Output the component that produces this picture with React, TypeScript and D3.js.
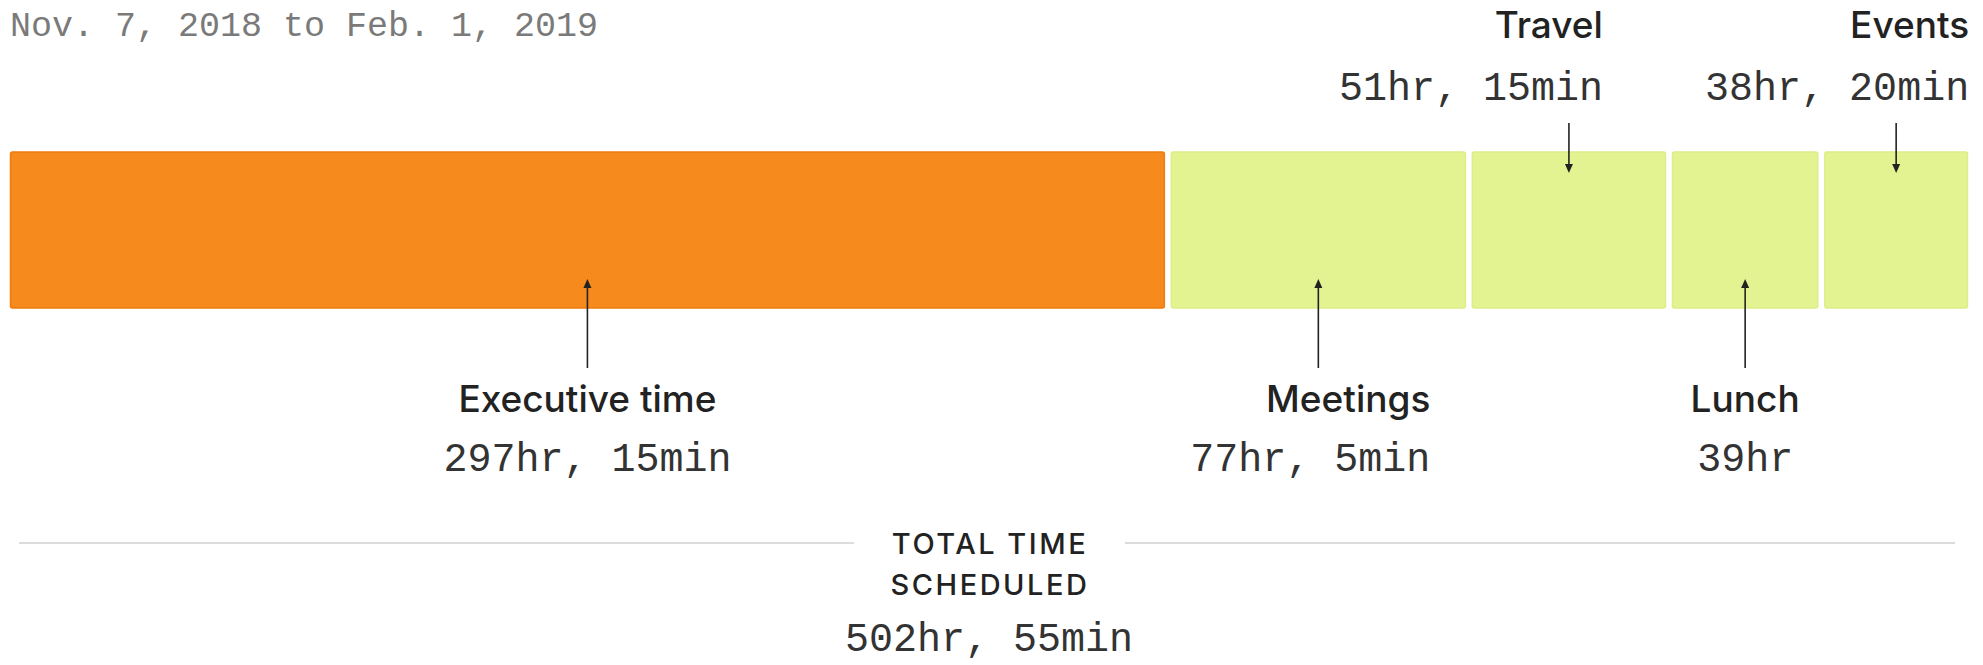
import React from "react";
import * as d3 from "d3";

const subtitle = "Nov. 7, 2018 to Feb. 1, 2019";
const categories = ["Executive time", "Meetings", "Travel", "Lunch", "Events"];
const hours = [297 + 15 / 60, 77 + 5 / 60, 51 + 15 / 60, 39, 38 + 20 / 60];
const highlight = ["Executive time"];
const totalTitle = ["TOTAL TIME", "SCHEDULED"];

// label layout (not data): side, text anchor, offset from segment centre
const labelLayout = [
  { side: "bottom", anchor: "middle", dx: 0 },
  { side: "bottom", anchor: "end", dx: 112 },
  { side: "top", anchor: "end", dx: 34 },
  { side: "bottom", anchor: "middle", dx: 0 },
  { side: "top", anchor: "end", dx: 73 },
];

const W = 1983;
const H = 665;
const MONO = "'Liberation Mono', 'DejaVu Sans Mono', monospace";
const SANS = "Inter, Roboto, 'Noto Sans', sans-serif";

function fmt(h: number): string {
  const totalMin = Math.round(h * 60);
  const hr = Math.floor(totalMin / 60);
  const mn = totalMin % 60;
  return mn === 0 ? `${hr}hr` : `${hr}hr, ${mn}min`;
}

export default function App() {
  const total = d3.sum(hours);
  const x = d3.scaleLinear().domain([0, total]).range([7, 1971]);
  const gap = 3.5;
  const barTop = 152;
  const barBottom = 308;
  const cum = d3.cumsum(hours);
  const segs = categories.map((c, i) => {
    const start = i === 0 ? 0 : cum[i - 1];
    const end = cum[i];
    const x0 = x(start) + gap;
    const x1 = x(end) - gap;
    return { c, i, x0, x1, cx: (x0 + x1) / 2, h: hours[i] };
  });

  const arrowHead = (cx: number, tipY: number, dir: number) => {
    const len = 9;
    const hw = 4;
    return `M${cx},${tipY} L${cx - hw},${tipY - dir * len} L${cx + hw},${tipY - dir * len} Z`;
  };

  const centerX = (x(0) + x(total)) / 2;
  const labelSize = 37;

  return (
    <svg
      width={W}
      height={H}
      style={{ position: "absolute", left: 0, top: 0, background: "#fff" }}
    >
      <text x={10} y={36} fontFamily={MONO} fontSize={35} fill="#7a7a7a">
        {subtitle}
      </text>

      {segs.map((s) => {
        const hi = highlight.includes(s.c);
        return (
          <rect
            key={s.c}
            x={s.x0}
            y={barTop}
            width={s.x1 - s.x0}
            height={barBottom - barTop}
            rx={2}
            fill={hi ? "#f68a1c" : "#e4f391"}
            stroke={hi ? "#ee7c0e" : "#dcee86"}
            strokeWidth={1.5}
          />
        );
      })}

      {segs.map((s) => {
        const L = labelLayout[s.i];
        const tx = s.cx + L.dx;
        if (L.side === "top") {
          return (
            <g key={"l" + s.c}>
              <line x1={s.cx} x2={s.cx} y1={123} y2={165} stroke="#222" strokeWidth={1.6} />
              <path d={arrowHead(s.cx, 173, 1)} fill="#222" />
              <text x={tx} y={38} textAnchor={L.anchor} fontFamily={SANS} fontWeight={500} fontSize={labelSize} fill="#222">
                {s.c}
              </text>
              <text x={tx} y={100} textAnchor={L.anchor} fontFamily={MONO} fontSize={40} fill="#333">
                {fmt(s.h)}
              </text>
            </g>
          );
        }
        return (
          <g key={"l" + s.c}>
            <line x1={s.cx} x2={s.cx} y1={368} y2={287} stroke="#222" strokeWidth={1.6} />
            <path d={arrowHead(s.cx, 279, -1)} fill="#222" />
            <text x={tx} y={412} textAnchor={L.anchor} fontFamily={SANS} fontWeight={500} fontSize={labelSize} fill="#222">
              {s.c}
            </text>
            <text x={tx} y={471} textAnchor={L.anchor} fontFamily={MONO} fontSize={40} fill="#333">
              {fmt(s.h)}
            </text>
          </g>
        );
      })}

      <line x1={19} x2={854} y1={543} y2={543} stroke="#dcdcdc" strokeWidth={2} />
      <line x1={1125} x2={1955} y1={543} y2={543} stroke="#dcdcdc" strokeWidth={2} />
      {totalTitle.map((t, i) => (
        <text
          key={t}
          x={centerX + 1}
          y={554 + i * 41}
          textAnchor="middle"
          fontFamily={SANS}
          fontWeight={500}
          fontSize={29}
          letterSpacing={2.5}
          fill="#222"
        >
          {t}
        </text>
      ))}
      <text x={centerX} y={651} textAnchor="middle" fontFamily={MONO} fontSize={40} fill="#333">
        {fmt(total)}
      </text>
    </svg>
  );
}
